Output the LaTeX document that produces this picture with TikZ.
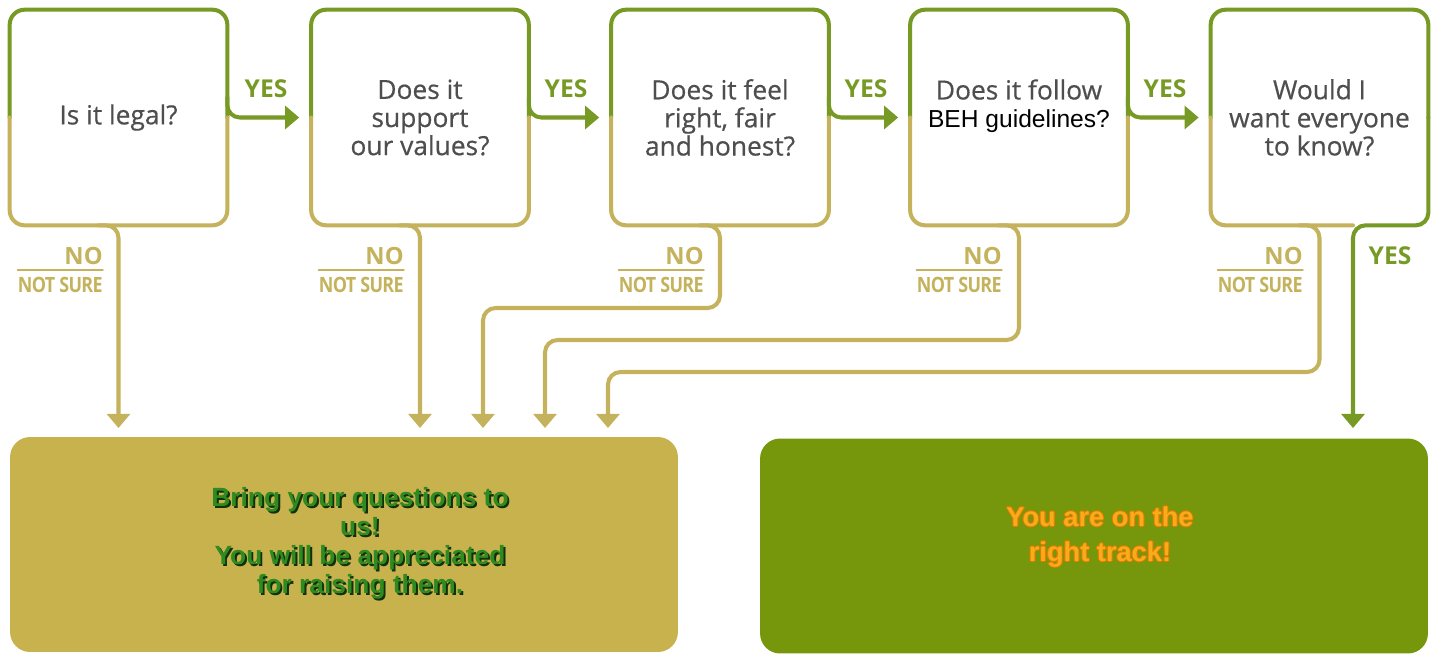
\documentclass[tikz,border=0pt]{standalone}
\usepackage{fontspec}
\setmainfont{Open Sans}
\newfontfamily\arialfont{Liberation Sans}
\usetikzlibrary{arrows.meta}
\definecolor{qgreen}{HTML}{779A25}
\definecolor{qkhaki}{HTML}{C4B25C}
\definecolor{qtext}{HTML}{4E4E4E}
\definecolor{bringfill}{HTML}{C8B24E}
\definecolor{trackfill}{HTML}{76960B}
\definecolor{bringtext}{HTML}{2F8A20}
\definecolor{bringshadow}{HTML}{12300A}
\definecolor{tracktext}{HTML}{F8AC1C}
\definecolor{trackedge}{HTML}{EC7A00}

% text with a dark drop shadow
\newcommand{\shadowline}[1]{\makebox[0pt][l]{\hspace{1.1pt}\raisebox{-1.1pt}{\color{bringshadow}#1}}#1}
% text with an orange rim
\newcommand{\rimline}[1]{%
\makebox[0pt][l]{\hspace{0.6pt}\color{trackedge}#1}%
\makebox[0pt][l]{\hspace{-0.6pt}\color{trackedge}#1}%
\makebox[0pt][l]{\raisebox{0.6pt}{\color{trackedge}#1}}%
\makebox[0pt][l]{\raisebox{-0.6pt}{\color{trackedge}#1}}#1}

\begin{document}
\begin{tikzpicture}[line cap=round,line join=round,>={Triangle[width=13pt,length=8pt]},x=0.02cm,y=-0.02cm,
  question/.style={minimum width=4.34cm,minimum height=4.3cm,inner sep=0pt,align=center,text=qtext,font=\fontsize{15}{16}\selectfont\addfontfeatures{FakeBold=0.5}},
  topedge/.style={draw=qgreen,line width=2.3pt,rounded corners=0.3cm},
  lowedge/.style={draw=qkhaki,line width=2.3pt,rounded corners=0.3cm},
  yesline/.style={draw=qgreen,line width=2.3pt,rounded corners=0.25cm},
  noline/.style={draw=qkhaki,line width=2.3pt,rounded corners=0.25cm},
  yeslabel/.style={text=qgreen,font=\bfseries\fontsize{14}{16}\selectfont},
  nolabel/.style={text=qkhaki,inner sep=0pt,font=\bfseries\fontsize{13.5}{15}\selectfont},
  notsure/.style={text=qkhaki,inner sep=0pt,font=\bfseries\fontsize{12}{13}\selectfont\addfontfeatures{FakeStretch=0.85,LetterSpace=-3}},
  answer/.style={minimum width=13.36cm,minimum height=4.3cm,rounded corners=0.4cm,inner sep=0pt,align=center}]
\useasboundingbox (0,0) rectangle (1434,654);

\node[question] (q1) at (118.5,117.5) {Is it legal?};
\node[question] (q2) at (420,117.5) {Does it\\support\\our values?};
\node[question] (q3) at (720,117.5) {Does it feel\\right, fair\\and honest?};
\node[question] (q4) at (1019,117.5) {Does it follow\\{\arialfont\color{black}\fontsize{14}{16}\selectfont BEH guidelines?}\\~};
\node[question] (q5) at (1319.5,117.5) {Would I\\want everyone\\to know?};

\node[answer,fill=bringfill,text=bringtext,font=\arialfont\bfseries\fontsize{15}{16.5}\selectfont] (bring) at (344,544.5)
  {\hspace*{0.64cm}\begin{tabular}{@{}c@{}}\shadowline{Bring your questions to}\\\shadowline{us!}\\\shadowline{You will be appreciated}\\\shadowline{for raising them.}\end{tabular}};
\node[answer,fill=trackfill,text=tracktext,text depth=26pt,font=\arialfont\bfseries\fontsize{15.5}{19.5}\selectfont] (track) at (1094,546)
  {\hspace*{0.24cm}\begin{tabular}{@{}c@{}}\rimline{You are on the}\\\rimline{right track!}\end{tabular}};

\coordinate (t1) at (118.5,428);
\coordinate (t2) at (420,428);
\coordinate (t3) at (483,428);
\coordinate (t4) at (545,428);
\coordinate (t5) at (608,428);
\coordinate (t6) at (1353,428);

% outlines: green above, khaki below
\draw[topedge] (q1.west) |- (q1.north) -| (q1.east);
\draw[lowedge] (q1.east) |- (q1.south) -| (q1.west);
\draw[topedge] (q2.west) |- (q2.north) -| (q2.east);
\draw[lowedge] (q2.east) |- (q2.south) -| (q2.west);
\draw[topedge] (q3.west) |- (q3.north) -| (q3.east);
\draw[lowedge] (q3.east) |- (q3.south) -| (q3.west);
\draw[topedge] (q4.west) |- (q4.north) -| (q4.east);
\draw[lowedge] (q4.east) |- (q4.south) -| (q4.west);
\draw[topedge] (q5.west) |- (q5.north) -| (q5.east);
\draw[lowedge] (t6 |- q5.south) -| (q5.west);

% yes
\draw[yesline,->] ([yshift=0.4cm]q1.east) |- ([xshift=-0.24cm]q2.west);
\draw[yesline,->] ([yshift=0.4cm]q2.east) |- ([xshift=-0.24cm]q3.west);
\draw[yesline,->] ([yshift=0.4cm]q3.east) |- ([xshift=-0.24cm]q4.west);
\draw[yesline,->] ([yshift=0.4cm]q4.east) |- ([xshift=-0.24cm]q5.west);
\draw[yesline,->] (q5.east) -- (q5.south east) -| (t6);
\node[yeslabel] (y1) at (266,89) {YES};
\node[yeslabel] (y2) at (566,89) {YES};
\node[yeslabel] (y3) at (866,89) {YES};
\node[yeslabel] (y4) at (1165,89) {YES};
\node[yeslabel] (y5) at (1390,256) {YES};

% no / not sure
\draw[noline,->] ([xshift=-0.4cm]q1.south) -| (t1);
\draw[noline,->] ([xshift=-0.4cm]q2.south) -| (t2);
\draw[noline,->] ([xshift=-0.4cm]q3.south) -| (q3.south |- 0,308) -| (t3);
\draw[noline,->] ([xshift=-0.4cm]q4.south) -| (q4.south |- 0,340) -| (t4);
\draw[noline,->] ([xshift=-0.4cm]q5.south) -| (q5.south |- 0,372) -| (t5);

\node[nolabel,anchor=east] (no1) at (103,256) {NO};
\node[notsure,anchor=east] (ns1) at (103,285) {NOT SURE};
\node[nolabel,anchor=east] (no2) at (404,256) {NO};
\node[notsure,anchor=east] (ns2) at (404,285) {NOT SURE};
\node[nolabel,anchor=east] (no3) at (704,256) {NO};
\node[notsure,anchor=east] (ns3) at (704,285) {NOT SURE};
\node[nolabel,anchor=east] (no4) at (1002,256) {NO};
\node[notsure,anchor=east] (ns4) at (1002,285) {NOT SURE};
\node[nolabel,anchor=east] (no5) at (1303,256) {NO};
\node[notsure,anchor=east] (ns5) at (1303,285) {NOT SURE};
\draw[qkhaki,line width=0.8pt] ([yshift=4pt]ns1.north west) -- ([yshift=4pt]ns1.north east);
\draw[qkhaki,line width=0.8pt] ([yshift=4pt]ns2.north west) -- ([yshift=4pt]ns2.north east);
\draw[qkhaki,line width=0.8pt] ([yshift=4pt]ns3.north west) -- ([yshift=4pt]ns3.north east);
\draw[qkhaki,line width=0.8pt] ([yshift=4pt]ns4.north west) -- ([yshift=4pt]ns4.north east);
\draw[qkhaki,line width=0.8pt] ([yshift=4pt]ns5.north west) -- ([yshift=4pt]ns5.north east);
\end{tikzpicture}
\end{document}
